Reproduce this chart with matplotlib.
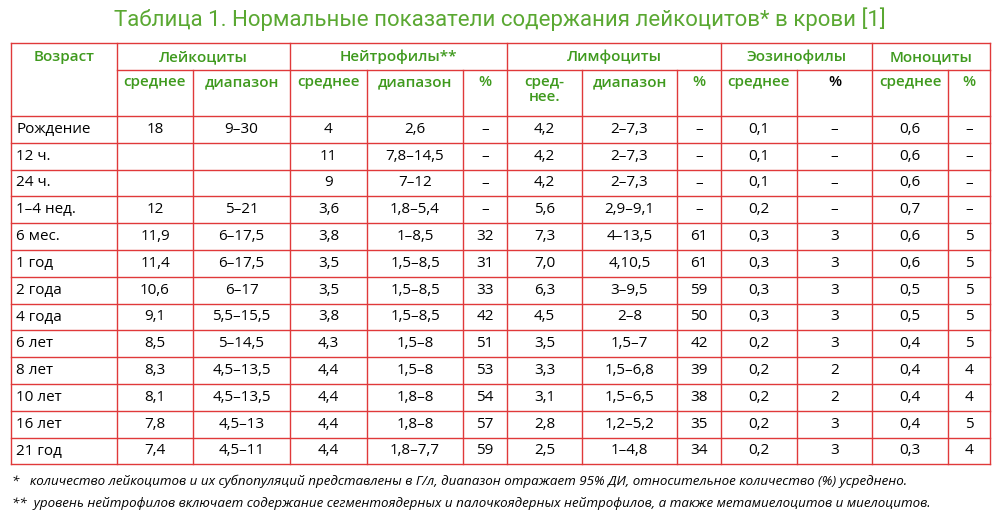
import matplotlib
matplotlib.use("Agg")
import matplotlib.pyplot as plt

title = "Таблица 1. Нормальные показатели содержания лейкоцитов* в крови [1]"
groups = ["Возраст", "Лейкоциты", "Нейтрофилы**", "Лимфоциты", "Эозинофилы", "Моноциты"]
group_spans = [(0, 1), (1, 3), (3, 6), (6, 9), (9, 11), (11, 13)]
subheads = ["", "среднее", "диапазон", "среднее", "диапазон", "%",
            "сред-\nнее.", "диапазон", "%", "среднее", "%", "среднее", "%"]

ages = ["Рождение", "12 ч.", "24 ч.", "1–4 нед.", "6 мес.", "1 год", "2 года",
        "4 года", "6 лет", "8 лет", "10 лет", "16 лет", "21 год"]
leu_mean = ["18", "", "", "12", "11,9", "11,4", "10,6", "9,1", "8,5", "8,3", "8,1", "7,8", "7,4"]
leu_range = ["9–30", "", "", "5–21", "6–17,5", "6–17,5", "6–17", "5,5–15,5", "5–14,5",
             "4,5–13,5", "4,5–13,5", "4,5–13", "4,5–11"]
neu_mean = ["4", "11", "9", "3,6", "3,8", "3,5", "3,5", "3,8", "4,3", "4,4", "4,4", "4,4", "4,4"]
neu_range = ["2,6", "7,8–14,5", "7–12", "1,8–5,4", "1–8,5", "1,5–8,5", "1,5–8,5",
             "1,5–8,5", "1,5–8", "1,5–8", "1,8–8", "1,8–8", "1,8–7,7"]
neu_pct = ["–", "–", "–", "–", "32", "31", "33", "42", "51", "53", "54", "57", "59"]
lym_mean = ["4,2", "4,2", "4,2", "5,6", "7,3", "7,0", "6,3", "4,5", "3,5", "3,3", "3,1", "2,8", "2,5"]
lym_range = ["2–7,3", "2–7,3", "2–7,3", "2,9–9,1", "4–13,5", "4,10,5", "3–9,5", "2–8",
             "1,5–7", "1,5–6,8", "1,5–6,5", "1,2–5,2", "1–4,8"]
lym_pct = ["–", "–", "–", "–", "61", "61", "59", "50", "42", "39", "38", "35", "34"]
eos_mean = ["0,1", "0,1", "0,1", "0,2", "0,3", "0,3", "0,3", "0,3", "0,2", "0,2", "0,2", "0,2", "0,2"]
eos_pct = ["–", "–", "–", "–", "3", "3", "3", "3", "3", "2", "2", "3", "3"]
mon_mean = ["0,6", "0,6", "0,6", "0,7", "0,6", "0,6", "0,5", "0,5", "0,4", "0,4", "0,4", "0,4", "0,3"]
mon_pct = ["–", "–", "–", "–", "5", "5", "5", "5", "5", "4", "4", "5", "4"]
columns = [ages, leu_mean, leu_range, neu_mean, neu_range, neu_pct, lym_mean,
           lym_range, lym_pct, eos_mean, eos_pct, mon_mean, mon_pct]

foot1 = "*   количество лейкоцитов и их субпопуляций представлены в Г/л, диапазон отражает 95% ДИ, относительное количество (%) усреднено."
foot2 = "**  уровень нейтрофилов включает содержание сегментоядерных и палочкоядерных нейтрофилов, а также метамиелоцитов и миелоцитов."

# layout in pixels
xs = [11, 117, 193, 290, 367, 463, 507, 582, 677, 721, 797, 872, 948, 990]
y_top, y_mid, y_head = 43, 70, 116
row_h = 26.8
RED = "#e0393a"
GREEN = "#3f9a1e"
TITLE_GREEN = "#5aa832"
FONT = "Open Sans"

fig = plt.figure(figsize=(10, 5.2), dpi=100)
ax = fig.add_axes([0, 0, 1, 1])
ax.set_xlim(0, 1000)
ax.set_ylim(520, 0)
ax.axis("off")

ax.text(500, 19, title, ha="center", va="center", fontsize=16, color=TITLE_GREEN,
        family="Roboto")

n = len(ages)
y_bot = y_head + n * row_h
lw = 1.0
# horizontal lines
ax.plot([xs[0], xs[-1]], [y_top, y_top], color=RED, lw=lw)
ax.plot([xs[1], xs[-1]], [y_mid, y_mid], color=RED, lw=lw)
for i in range(n + 1):
    y = y_head + i * row_h
    ax.plot([xs[0], xs[-1]], [y, y], color=RED, lw=lw)
# vertical lines
group_edges = {s for s, e in group_spans} | {len(xs) - 1}
for j, x in enumerate(xs):
    y0 = y_top if j in group_edges else y_mid
    ax.plot([x, x], [y0, y_bot], color=RED, lw=lw)

# group headers
for name, (s, e) in zip(groups, group_spans):
    ax.text((xs[s] + xs[e]) / 2, 57, name, ha="center", va="center",
            fontsize=11, color=GREEN, family=FONT, fontweight="semibold")
for j, sh in enumerate(subheads):
    if not sh:
        continue
    col = "black" if j == 10 else GREEN
    ax.text((xs[j] + xs[j + 1]) / 2, 75, sh, ha="center", va="top",
            fontsize=11, color=col, family=FONT, fontweight="semibold", linespacing=1.05)

# body
for j, colvals in enumerate(columns):
    for i, v in enumerate(colvals):
        y = y_head + (i + 0.5) * row_h
        if j == 0:
            ax.text(xs[0] + 5, y, v, ha="left", va="center", fontsize=11, family=FONT)
        else:
            ax.text((xs[j] + xs[j + 1]) / 2, y, v, ha="center", va="center",
                    fontsize=11, family=FONT)

ax.text(12, 481, foot1, ha="left", va="center", fontsize=9.6, style="italic", family=FONT)
ax.text(12, 504, foot2, ha="left", va="center", fontsize=9.6, style="italic", family=FONT)

fig.savefig("out.png", dpi=100, facecolor="white")
